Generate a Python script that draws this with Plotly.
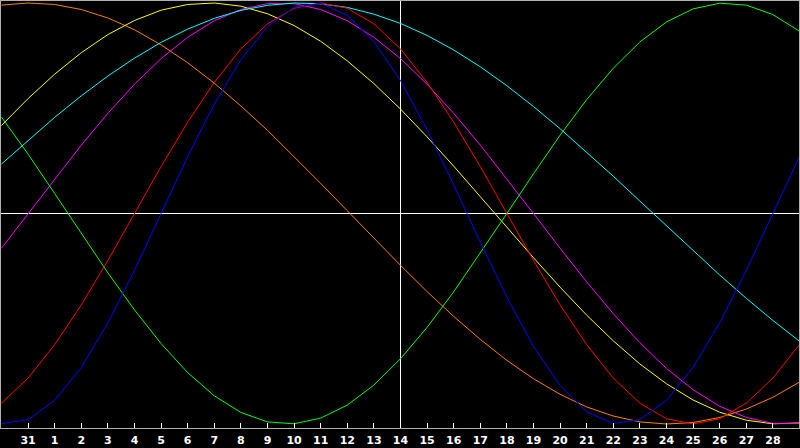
import plotly.graph_objects as go

# Day positions (0 = day 30 of previous month, 1 = day 31, 2 = day 1 ... 30)
day_pos = list(range(31))
tick_pos = list(range(1, 30))
tick_labels = ["31"] + [str(d) for d in range(1, 29)]

blue = [-0.998, -0.979, -0.888, -0.731, -0.520, -0.270, 0.000, 0.270, 0.520, 0.731,
        0.888, 0.979, 0.998, 0.942, 0.817, 0.631, 0.398, 0.136, -0.136, -0.398,
        -0.631, -0.817, -0.942, -0.998, -0.979, -0.888, -0.731, -0.520, -0.270, 0.000, 0.270]
red = [-0.901, -0.782, -0.623, -0.434, -0.223, 0.000, 0.223, 0.434, 0.623, 0.782,
       0.901, 0.975, 1.000, 0.975, 0.901, 0.782, 0.623, 0.434, 0.223, 0.000,
       -0.223, -0.434, -0.623, -0.782, -0.901, -0.975, -1.000, -0.975, -0.901, -0.782, -0.623]
green = [0.458, 0.282, 0.095, -0.095, -0.282, -0.458, -0.618, -0.756, -0.866, -0.945,
         -0.990, -0.999, -0.972, -0.910, -0.815, -0.690, -0.541, -0.372, -0.189, 0.000,
         0.189, 0.372, 0.541, 0.690, 0.815, 0.910, 0.972, 0.999, 0.990, 0.945, 0.866]
magenta = [-0.165, 0.000, 0.165, 0.325, 0.476, 0.614, 0.736, 0.837, 0.916, 0.969,
           0.997, 0.997, 0.969, 0.916, 0.837, 0.736, 0.614, 0.476, 0.325, 0.165,
           0.000, -0.165, -0.325, -0.476, -0.614, -0.736, -0.837, -0.916, -0.969, -0.997, -0.997]
cyan = [0.235, 0.348, 0.457, 0.559, 0.653, 0.738, 0.813, 0.876, 0.927, 0.965,
        0.989, 1.000, 0.996, 0.979, 0.947, 0.903, 0.846, 0.777, 0.697, 0.607,
        0.508, 0.403, 0.292, 0.177, 0.059, -0.059, -0.177, -0.292, -0.403, -0.508, -0.607]
yellow = [0.418, 0.546, 0.662, 0.764, 0.850, 0.917, 0.966, 0.993, 1.000, 0.985,
          0.949, 0.893, 0.818, 0.725, 0.617, 0.496, 0.364, 0.225, 0.080, -0.066,
          -0.210, -0.350, -0.483, -0.605, -0.715, -0.809, -0.886, -0.944, -0.982, -0.999, -0.995]
orange = [0.990, 1.000, 0.993, 0.969, 0.929, 0.873, 0.801, 0.716, 0.619, 0.511,
          0.395, 0.271, 0.143, 0.013, -0.118, -0.246, -0.371, -0.489, -0.598, -0.698,
          -0.785, -0.859, -0.919, -0.962, -0.990, -1.000, -0.993, -0.969, -0.929, -0.873, -0.801]

series = [
    ("orange", orange, "#ff8000"),
    ("yellow", yellow, "#ffff00"),
    ("magenta", magenta, "#ff00ff"),
    ("cyan", cyan, "#00ffff"),
    ("green", green, "#00ff00"),
    ("red", red, "#ff0000"),
    ("blue", blue, "#0000ff"),
]

fig = go.Figure()
for name, vals, col in series:
    fig.add_trace(go.Scatter(x=day_pos, y=vals, mode="lines", name=name,
                             line=dict(color=col, width=1), hoverinfo="skip"))

fig.add_shape(type="line", x0=15, x1=15, y0=0, y1=1, yref="paper", xref="x",
              line=dict(color="#ffffff", width=1), layer="below")

fig.update_layout(
    width=800, height=448,
    margin=dict(l=1, r=1, t=1, b=20),
    paper_bgcolor="#000000", plot_bgcolor="#000000",
    showlegend=False,
    xaxis=dict(range=[-0.0188, 29.9812], tickvals=tick_pos, ticktext=tick_labels,
               ticks="inside", ticklen=5, tickcolor="#ffffff", tickwidth=1,
               showgrid=False, zeroline=False,
               showline=True, linecolor="#b0b0b0", linewidth=1, mirror=True,
               tickfont=dict(family="DejaVu Sans", size=11, color="#ffffff", weight="bold"),
               ticklabelstandoff=2, fixedrange=True),
    yaxis=dict(range=[-1.019, 1.0095], showticklabels=False, ticks="",
               showgrid=False, zeroline=True, zerolinecolor="#ffffff", zerolinewidth=1,
               showline=True, linecolor="#b0b0b0", linewidth=1, mirror=True,
               fixedrange=True),
)

fig.write_html("out.html", config={"displayModeBar": False},
               post_script="document.body.style.margin='0';document.body.style.background='#000';")
